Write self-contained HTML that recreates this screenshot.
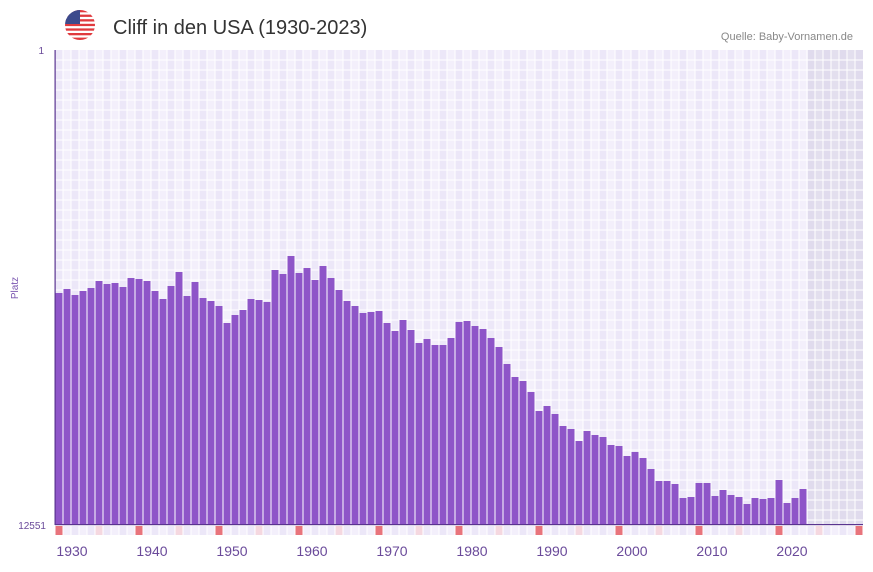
<!DOCTYPE html>
<html><head><meta charset="utf-8"><style>
body{margin:0;background:#fff;width:873px;height:567px;overflow:hidden;font-family:"Liberation Sans",sans-serif}
</style></head><body>
<svg id="s" width="873" height="567" xmlns="http://www.w3.org/2000/svg">
<defs><clipPath id="c"><circle cx="80" cy="25" r="15"/></clipPath></defs>
<g clip-path="url(#c)">
<rect x="65" y="10" width="30" height="30" fill="#fff"/>
<rect x="65" y="10" width="30" height="2.3" fill="#e03a3e"/><rect x="65" y="14.6" width="30" height="2.3" fill="#e03a3e"/><rect x="65" y="19.2" width="30" height="2.3" fill="#e03a3e"/><rect x="65" y="23.8" width="30" height="2.3" fill="#e03a3e"/><rect x="65" y="28.4" width="30" height="2.3" fill="#e03a3e"/><rect x="65" y="33" width="30" height="2.3" fill="#e03a3e"/><rect x="65" y="37.6" width="30" height="2.4" fill="#e03a3e"/>
<rect x="65" y="10" width="15" height="14" fill="#3c4a8c"/>
</g>
<text x="113" y="34" font-size="20" fill="#333">Cliff in den USA (1930-2023)</text>
<text x="853" y="40" font-size="11" fill="#888" text-anchor="end">Quelle: Baby-Vornamen.de</text>
<g id="g"></g>
<text x="44" y="54" font-size="10" fill="#6a4a9a" text-anchor="end">1</text>
<text x="46" y="529" font-size="10" fill="#6a4a9a" text-anchor="end">12551</text>
<text x="18" y="288" font-size="10" fill="#7a55b0" text-anchor="middle" transform="rotate(-90 18 288)">Platz</text>
</svg>
<script>
var g=document.getElementById('g'),h='';
for(var i=0;i<101;i++){var x=55+i*8;h+='<rect x="'+x+'" y="50" width="8" height="475" fill="'+(i%2?'#f3effb':'#ece7f8')+'"/>';}
h+='<rect x="808" y="50" width="55" height="475" fill="#d9d3e6" opacity="0.6"/>';
for(var i=1;i<101;i++){h+='<rect x="'+(55+i*8-0.5)+'" y="50" width="1" height="475" fill="#fff"/>';}
for(var y=60;y<525;y+=10){h+='<rect x="55" y="'+(y-0.5)+'" width="808" height="1" fill="#fff"/>';}
var t=[293,289,295,291,288,281,284,283,287,278,279,281,291,299,286,272,296,282,298,301,306,323,315,310,299,300,302,270,274,256,273,268,280,266,278,290,301,306,313,312,311,323,331,320,330,343,339,345,345,338,322,321,326,329,338,347,364,377,381,392,411,406,414,426,429,441,431,435,437,445,446,456,452,458,469,481,481,484,498,497,483,483,496,490,495,497,504,498,499,498,480,503,498,489];
for(var i=0;i<t.length;i++){h+='<rect x="'+(55+i*8+0.5)+'" y="'+t[i]+'" width="7" height="'+(525-t[i])+'" fill="#8e55c8"/>';}
h+='<rect x="55" y="524" width="808" height="1.2" fill="#5a3490"/><rect x="54.5" y="50" width="1.2" height="475" fill="#5a3490"/>';
for(var i=0;i<101;i++){var x=55+i*8;var c=(i%10==0)?'#e8747c':(i%10==5?'#f5d8e0':(i%2?'#f3effb':'#ece7f8'));h+='<rect x="'+(x+0.5)+'" y="526" width="7" height="9" fill="'+c+'"/>';}
for(var k=0;k<10;k++){h+='<text x="'+(72+80*k)+'" y="556" font-size="14" fill="#6a4a9a" text-anchor="middle">'+(1930+10*k)+'</text>';}
g.innerHTML=h;
</script>
</body></html>
